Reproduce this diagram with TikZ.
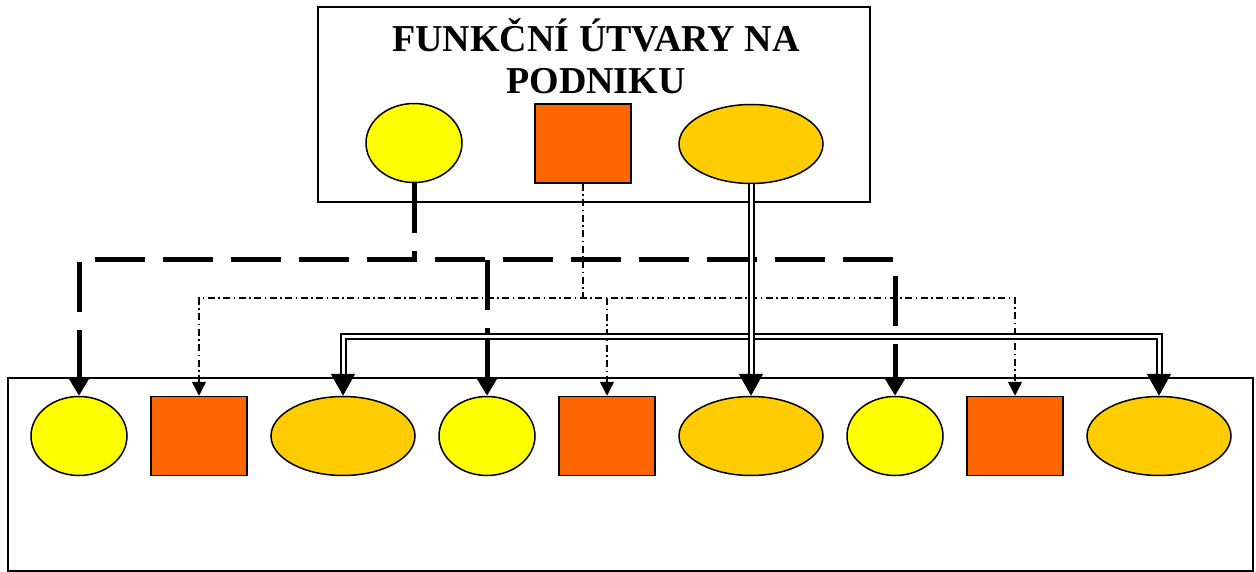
\documentclass[tikz,border=0pt]{standalone}
\usepackage{fontspec}
\setmainfont{Liberation Serif}
\usetikzlibrary{shapes.geometric,arrows.meta}
\definecolor{yellowc}{HTML}{FFFF00}
\definecolor{orangec}{HTML}{FF6600}
\definecolor{goldc}{HTML}{FFCC00}
\begin{document}
\begin{tikzpicture}[x=1pt,y=-1pt,
 box/.style={draw, line width=1.5pt},
 yel/.style={ellipse, draw, line width=1.5pt, fill=yellowc, minimum width=96pt, minimum height=79pt, inner sep=0pt},
 sq/.style={rectangle, draw, line width=1.5pt, fill=orangec, minimum width=96pt, minimum height=79pt, inner sep=0pt},
 ell/.style={ellipse, draw, line width=1.5pt, fill=goldc, minimum width=144pt, minimum height=79pt, inner sep=0pt},
 thickdash/.style={line width=5pt, dash pattern=on 50pt off 18pt},
 dashdot/.style={line width=1.5pt, dash pattern=on 7pt off 3.5pt on 1.5pt off 3.5pt},
 dbl/.style={draw=black, double=white, double distance=3pt, line width=2pt},
 tipA/.style={{Triangle[length=17pt,width=19pt]}-{Triangle[length=17pt,width=19pt]}},
 tipB/.style={{Triangle[length=14pt,width=14pt]}-{Triangle[length=14pt,width=14pt]}},
 tipC/.style={{Triangle[length=22pt,width=24pt]}-{Triangle[length=22pt,width=24pt]}},
]
\useasboundingbox (0,0) rectangle (1256,572);
% boxes
\draw[box] (318,7) rectangle (870,202);
\draw[box] (8,378) rectangle (1253,571);
\node[font=\bfseries\fontsize{38}{42}\selectfont, align=center] (title) at (596,56.5) {FUNKČNÍ ÚTVARY NA\\PODNIKU};
% top shapes
\node[yel] (tY) at (414,143) {};
\node[sq] (tS) at (583,143.5) {};
\node[ell] (tE) at (751,144) {};
% bottom shapes
\node[yel] (b1) at (79,436) {};
\node[sq]  (b2) at (199,436) {};
\node[ell] (b3) at (343,436) {};
\node[yel] (b4) at (487,436) {};
\node[sq]  (b5) at (607,436) {};
\node[ell] (b6) at (751,436) {};
\node[yel] (b7) at (895,436) {};
\node[sq]  (b8) at (1015,436) {};
\node[ell] (b9) at (1159,436) {};
% coordinates
\coordinate (ya) at (414,260);
\coordinate (yl) at (79,260);
\coordinate (ym) at (487,260);
\coordinate (yr) at (895,260);
\coordinate (sa) at (583,298);
\coordinate (sl) at (199,298);
\coordinate (sm) at (607,298);
\coordinate (sr) at (1015,298);
\coordinate (dl) at (343,336);
\coordinate (dr) at (1159,336);
% thick dashed connectors
\draw[thickdash] (tY.south) -- (ya);
\draw[thickdash, tipA] (b1.north) -- (yl) -- (yr) -- (b7.north);
\draw[thickdash, -{Triangle[length=17pt,width=19pt]}] (ym) -- (b4.north);
% dash-dot connectors
\draw[dashdot] (tS.south) -- (sa);
\draw[dashdot, tipB] (b2.north) -- (sl) -- (sr) -- (b8.north);
\draw[dashdot, -{Triangle[length=14pt,width=14pt]}] (sm) -- (b5.north);
% double connectors
\draw[dbl, tipC] (b3.north) -- (dl) -- (dr) -- (b9.north);
\draw[dbl, -{Triangle[length=22pt,width=24pt]}] (tE.south) -- (b6.north);
\end{tikzpicture}
\end{document}
